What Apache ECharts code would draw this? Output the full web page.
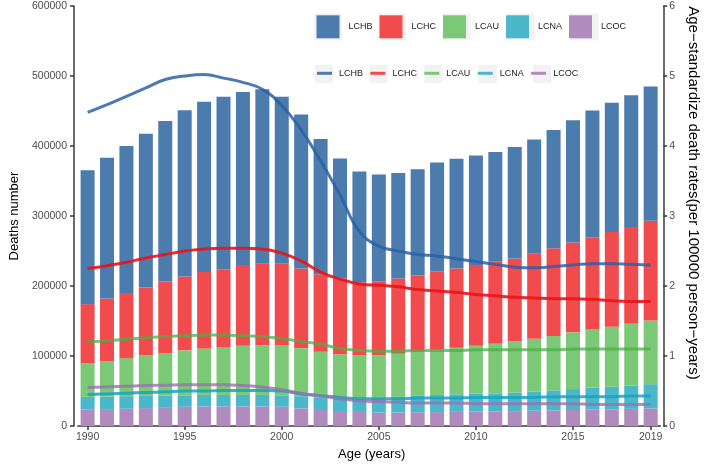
<!DOCTYPE html>
<html>
<head>
<meta charset="utf-8">
<script src="https://cdn.jsdelivr.net/npm/echarts@6/dist/echarts.min.js"></script>
<style>html,body{margin:0;padding:0;background:#fff}#c{width:709px;height:466px}</style>
</head>
<body>
<div id="c"></div>
<script>
const years = [1990,1991,1992,1993,1994,1995,1996,1997,1998,1999,2000,2001,2002,2003,2004,2005,2006,2007,2008,2009,2010,2011,2012,2013,2014,2015,2016,2017,2018,2019];
const seriesNames = ['LCHB','LCHC','LCAU','LCNA','LCOC'];
const xTicks = [1990,1995,2000,2005,2010,2015,2019];

// Deaths number (stacked bars)
const LCHB_deaths = [191100,201000,209900,219600,229100,237400,243200,246300,247300,249000,238300,220000,192900,171200,158000,152300,150800,151700,155600,156500,156400,157000,159300,163000,169000,174700,180800,184600,188300,192000];
const LCHC_deaths = [84700,89500,93100,97400,102100,105400,109000,111600,115200,116300,116800,113600,110700,108400,104800,105800,107300,108700,111900,113200,115200,117000,118500,121700,125100,128400,131700,135300,138200,142400];
const LCAU_deaths = [47800,50500,54300,57600,60800,64200,66500,67900,70300,71200,71200,68700,65100,62600,61200,60500,61800,63200,64600,66600,68400,70800,73000,75400,77700,81000,83300,85700,88100,90900];
const LCNA_deaths = [17800,17900,17900,17400,16500,16400,16400,16400,16400,16400,16400,17400,18200,18400,19300,21400,22200,23300,24500,25100,25800,25800,26400,27300,28700,29900,31300,32200,33400,34600];
const LCOC_deaths = [23900,24300,24800,25700,27100,27600,28100,28100,28100,28100,27600,25300,23000,21600,20200,19300,19500,19800,20000,20300,20600,21000,21400,21900,22400,23000,23500,24000,24600,25300];

// Age-standardized death rates (lines)
const LCHB_rate = [4.48,4.59,4.71,4.83,4.95,5.00,5.02,4.97,4.91,4.81,4.58,4.23,3.79,3.30,2.78,2.57,2.50,2.45,2.43,2.39,2.35,2.31,2.27,2.26,2.28,2.30,2.32,2.32,2.31,2.30];
const LCHC_rate = [2.25,2.29,2.34,2.40,2.45,2.50,2.53,2.54,2.54,2.53,2.47,2.36,2.20,2.10,2.03,2.01,1.99,1.95,1.93,1.91,1.88,1.86,1.84,1.83,1.82,1.82,1.81,1.79,1.78,1.78];
const LCAU_rate = [1.20,1.22,1.24,1.26,1.28,1.29,1.30,1.30,1.29,1.28,1.25,1.21,1.17,1.11,1.08,1.07,1.07,1.08,1.08,1.08,1.09,1.09,1.09,1.09,1.09,1.10,1.10,1.10,1.10,1.10];
const LCNA_rate = [0.45,0.46,0.47,0.48,0.49,0.50,0.50,0.51,0.51,0.51,0.50,0.46,0.435,0.41,0.39,0.39,0.39,0.40,0.40,0.40,0.41,0.41,0.41,0.41,0.42,0.42,0.42,0.42,0.43,0.43];
const LCOC_rate = [0.55,0.56,0.57,0.58,0.585,0.59,0.59,0.59,0.58,0.56,0.52,0.47,0.43,0.39,0.36,0.35,0.34,0.33,0.33,0.33,0.32,0.32,0.32,0.32,0.32,0.32,0.31,0.31,0.31,0.31];

const deaths = {LCHB:LCHB_deaths, LCHC:LCHC_deaths, LCAU:LCAU_deaths, LCNA:LCNA_deaths, LCOC:LCOC_deaths};
const rates = {LCHB:LCHB_rate, LCHC:LCHC_rate, LCAU:LCAU_rate, LCNA:LCNA_rate, LCOC:LCOC_rate};
const barColors = {LCHB:'#4c7cae', LCHC:'#f24b4e', LCAU:'#7bc976', LCNA:'#4ab7cb', LCOC:'#b08bbd'};
const lineColors = {LCHB:'#2a62a6', LCHC:'#e8141c', LCAU:'#4eae4a', LCNA:'#17a3bf', LCOC:'#9c6fb0'};
const lineOpacity = {LCHB:0.85, LCHC:0.9, LCAU:0.75, LCNA:0.85, LCOC:0.8};

const FONT = 'Liberation Sans';
const chart = echarts.init(document.getElementById('c'), null, {renderer:'canvas'});

const series = [];
// stack bottom-up: LCOC, LCNA, LCAU, LCHC, LCHB
['LCOC','LCNA','LCAU','LCHC','LCHB'].forEach(n => {
  series.push({
    name: n, type: 'bar', stack: 'deaths', yAxisIndex: 0, barWidth: 14,
    itemStyle: {color: barColors[n]},
    emphasis: {disabled: true},
    data: deaths[n]
  });
});
seriesNames.forEach(n => {
  series.push({
    name: n, type: 'line', yAxisIndex: 1, smooth: 0.45, showSymbol: false, symbol: 'none',
    lineStyle: {color: lineColors[n], width: 3, opacity: lineOpacity[n]},
    itemStyle: {color: lineColors[n]},
    emphasis: {disabled: true}, z: 3,
    data: rates[n]
  });
});

const axisLineStyle = {color: '#3a3a3a', width: 1.5};
const lblStyle = {color: '#4d4d4d', fontSize: 10.5, fontFamily: FONT};
const showTick = (idx, val) => xTicks.indexOf(Number(val)) >= 0;

chart.setOption({
  animation: false,
  backgroundColor: '#ffffff',
  textStyle: {fontFamily: FONT},
  grid: {left: 65.9, right: 36.9, top: 6, bottom: 33, containLabel: false},
  legend: [
    { // bar legend backgrounds
      left: 314, top: 13.3, padding: 0, orient: 'horizontal', selectedMode: false, z: 1,
      itemWidth: 28, itemHeight: 27, itemGap: 7, icon: 'rect',
      textStyle: {fontSize: 9, width: 25, color: 'rgba(0,0,0,0)'},
      data: seriesNames.map(n => ({name: n, icon: 'rect', itemStyle: {color: '#f2f2f2', borderWidth: 0}}))
    },
    { // bar legend
      left: 316.5, top: 15.3, padding: 0, orient: 'horizontal', selectedMode: false, z: 2,
      itemWidth: 23, itemHeight: 23, itemGap: 7, icon: 'rect',
      textStyle: {fontSize: 9, width: 26, padding: [0,0,0,4], color: '#1a1a1a'},
      data: seriesNames.map(n => ({name: n, icon: 'rect', itemStyle: {color: barColors[n], borderWidth: 0}}))
    },
    { // line legend backgrounds
      left: 315, top: 65, padding: 0, orient: 'horizontal', selectedMode: false, z: 1,
      itemWidth: 18, itemHeight: 18, itemGap: 7.4, icon: 'rect',
      textStyle: {fontSize: 9, width: 25, color: 'rgba(0,0,0,0)'},
      data: seriesNames.map(n => ({name: n, icon: 'rect', itemStyle: {color: '#f2f2f2', borderWidth: 0}, lineStyle: {width: 0}}))
    },
    { // line legend
      left: 317, top: 68.8, padding: 0, orient: 'horizontal', selectedMode: false, z: 2,
      itemWidth: 15, itemHeight: 3, itemGap: 7.4, icon: 'rect',
      textStyle: {fontSize: 9, width: 26, padding: [0,0,0,2], color: '#1a1a1a'},
      data: seriesNames.map(n => ({name: n, icon: 'rect', itemStyle: {color: barColors[n], borderWidth: 0}, lineStyle: {width: 0}}))
    }
  ],
  xAxis: {
    type: 'category', data: years.map(String), boundaryGap: true,
    name: 'Age (years)', nameLocation: 'middle', nameGap: 17,
    nameTextStyle: {color: '#000', fontSize: 13, fontFamily: FONT, padding: [0, 0, 0, 5]},
    axisLine: {show: true, lineStyle: axisLineStyle},
    axisTick: {show: true, length: 4, alignWithLabel: true, interval: showTick, lineStyle: axisLineStyle},
    axisLabel: Object.assign({margin: 6, interval: showTick}, lblStyle),
    splitLine: {show: false}
  },
  yAxis: [
    {
      type: 'value', min: 0, max: 600000, interval: 100000, position: 'left', offset: 3.9,
      name: 'Deaths number', nameLocation: 'middle', nameGap: 53, nameRotate: 90,
      nameTextStyle: {color: '#000', fontSize: 13, fontFamily: FONT},
      axisLine: {show: true, lineStyle: axisLineStyle},
      axisTick: {show: true, length: 4, lineStyle: axisLineStyle},
      axisLabel: Object.assign({margin: 7, formatter: v => String(v)}, lblStyle),
      splitLine: {show: false}
    },
    {
      type: 'value', min: 0, max: 6, interval: 1, position: 'right', offset: 2.9,
      name: 'Age\u2212standardize death rates(per 100000 person\u2212years)', nameLocation: 'middle', nameGap: 20, nameRotate: -90,
      nameTextStyle: {color: '#000', fontSize: 15, fontFamily: FONT, padding: [0, 46, 0, 0]},
      axisLine: {show: true, lineStyle: axisLineStyle},
      axisTick: {show: true, length: 4, lineStyle: axisLineStyle},
      axisLabel: Object.assign({margin: 6}, lblStyle),
      splitLine: {show: false}
    }
  ],
  series: series
});
</script>
</body>
</html>
